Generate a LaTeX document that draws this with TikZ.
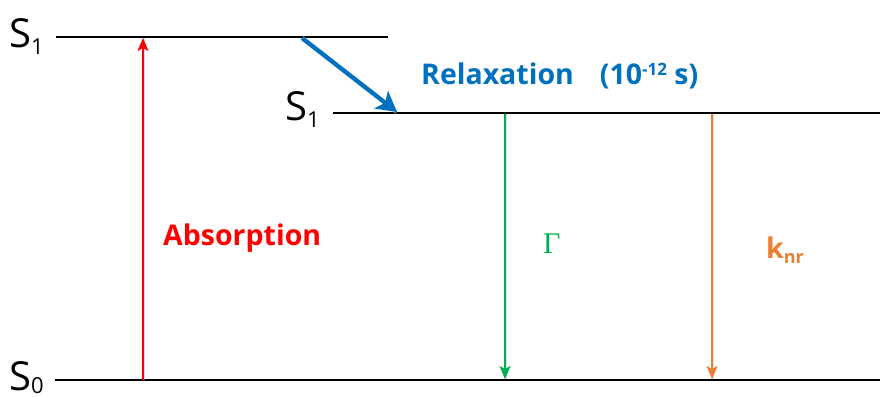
\documentclass[tikz,border=0pt]{standalone}
\usepackage{fontspec}
\setmainfont{Open Sans}
\newfontfamily\gamfont{Liberation Serif}
\usetikzlibrary{arrows.meta}
\definecolor{cred}{RGB}{255,0,0}
\definecolor{cblue}{RGB}{0,112,192}
\definecolor{cgreen}{RGB}{0,176,80}
\definecolor{corange}{RGB}{237,125,49}
\tikzset{
  level/.style={line width=2.2pt, black},
  thinarrow/.style={line width=1.8pt, -{Stealth[length=13pt,width=11pt,inset=3pt]}},
  shadowline/.style={line width=3pt, black!25, opacity=0.5, shift={(3pt,2pt)}},
  lbl/.style={inner sep=0pt, anchor=base west},
  slabel/.style={lbl, font=\fontsize{40}{44}\selectfont},
  bigtext/.style={lbl, font=\fontsize{28.5}{32}\selectfont\bfseries},
}
\newcommand{\mysub}[1]{\raisebox{-7pt}{\fontsize{22}{24}\selectfont #1}}
\begin{document}
\begin{tikzpicture}[x=1pt,y=-1pt]
\useasboundingbox (0,0) rectangle (880,396);
% levels
\coordinate (s1al) at (56,37);  \coordinate (s1ar) at (388,37);
\coordinate (s1bl) at (333,113); \coordinate (s1br) at (880,113);
\coordinate (s0l) at (55,380);  \coordinate (s0r) at (880,380);
\draw[level] (s1al) -- (s1ar);
\draw[level] (s1bl) -- (s1br);
\draw[level] (s0l) -- (s0r);
% labels
\node[slabel] (ls1a) at (9,48) {S\mysub{1}};
\node[slabel] (ls1b) at (285,120) {S\mysub{1}};
\node[slabel] (ls0) at (9,390) {S\raisebox{-3pt}{\fontsize{22}{24}\selectfont 0}};
% arrow endpoints
\coordinate (abot) at (143,380); \coordinate (atop) at (143,38);
\coordinate (rs) at (302,38); \coordinate (re) at (397,112);
\coordinate (gt) at (505,114); \coordinate (gb) at (505,379);
\coordinate (ot) at (712,114); \coordinate (ob) at (712,379);
% shadows
\draw[shadowline] (abot) -- (atop);
\draw[shadowline] (gt) -- (gb);
\draw[shadowline] (ot) -- (ob);
\draw[shadowline, line width=5pt] (rs) -- (re);
% arrows
\draw[thinarrow, cred] (abot) -- (atop);
\draw[thinarrow, cgreen] (gt) -- (gb);
\draw[thinarrow, corange] (ot) -- (ob);
\draw[line width=4.2pt, cblue, -{Stealth[length=20pt,width=22pt,inset=5pt]}] (rs) -- (re);
% texts
\node[bigtext, text=cred] (tabs) at (163,245) {Absorption};
\node[bigtext, text=cblue] (trel) at (421,84) {Relaxation\hspace{26pt}(10\raisebox{9pt}{\fontsize{17}{18}\selectfont\bfseries -12} s)};
\node[lbl, text=cgreen, font=\fontsize{30}{34}\selectfont\gamfont] (tgam) at (543,253) {Γ};
\node[bigtext, text=corange] (tk) at (766,258) {k\raisebox{-5pt}{\fontsize{18}{20}\selectfont\bfseries nr}};
\end{tikzpicture}
\end{document}
